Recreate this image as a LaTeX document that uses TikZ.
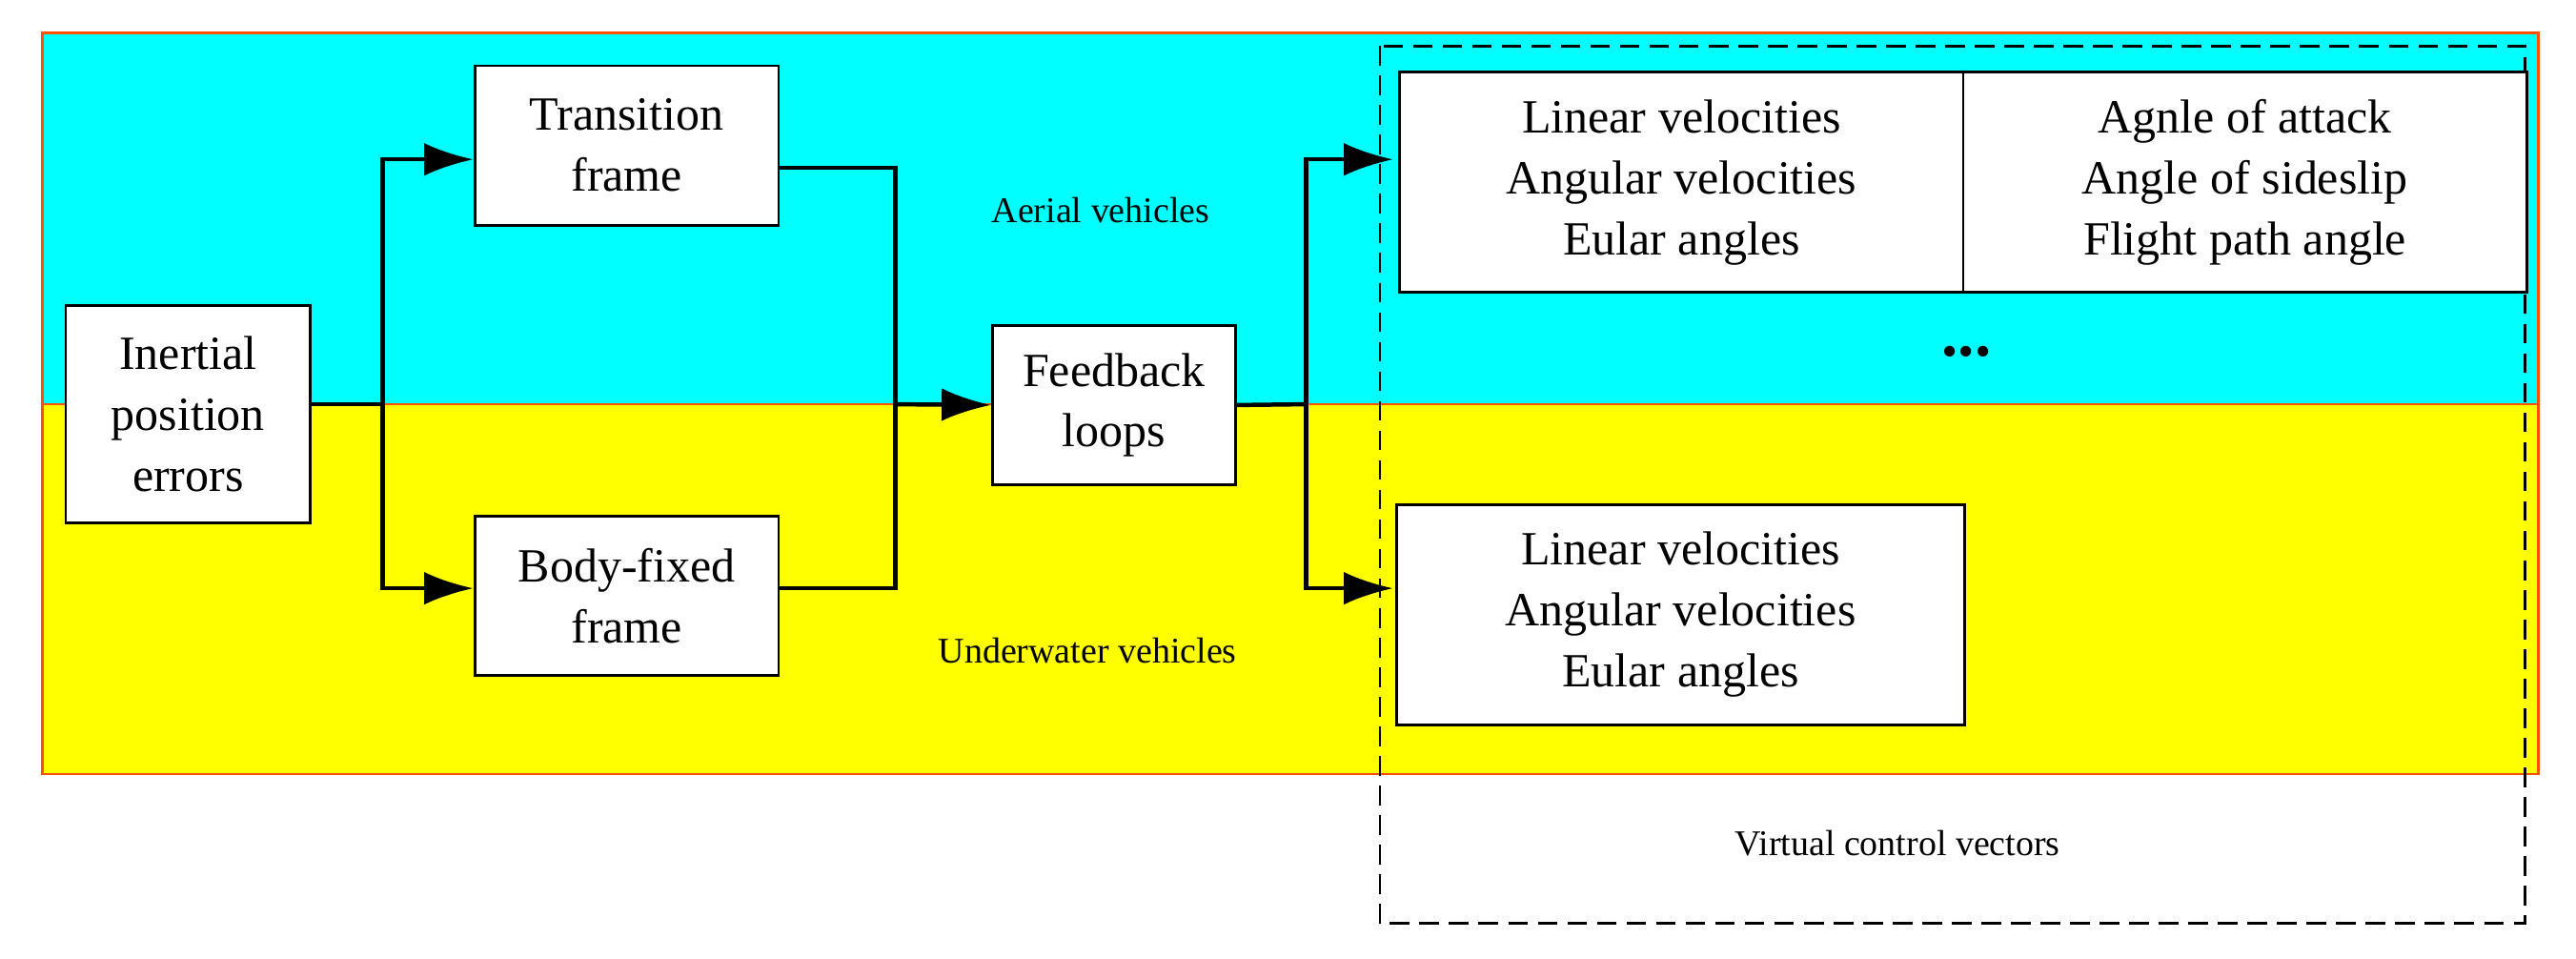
\documentclass[tikz,border=0pt]{standalone}
\usepackage{fontspec}
\setmainfont{Liberation Serif}
\usetikzlibrary{arrows.meta}
\definecolor{cy}{RGB}{0,255,255}
\definecolor{ye}{RGB}{255,255,0}
\definecolor{bd}{RGB}{255,80,0}
\begin{document}
\begin{tikzpicture}[x=0.5pt,y=-0.5pt,
  box/.style={draw,fill=white,line width=0.8pt,align=center,font=\fontsize{14.5}{18.5}\selectfont,inner sep=0pt},
  lab/.style={font=\fontsize{11}{13}\selectfont},
  ln/.style={line width=1.3pt},
  arr/.style={ln,-{Latex[length=15pt,width=10pt]}}]
\useasboundingbox (0,0) rectangle (1568,583);
\fill[cy] (26,20) rectangle (1545,246);
\fill[ye] (26,246) rectangle (1545,471);
\draw[bd,line width=0.8pt] (26,20) rectangle (1545,471);
\draw[bd,line width=0.8pt] (26,246) -- (1545,246);
\draw[dashed,line width=0.8pt,dash pattern=on 6pt off 3pt] (840,28) rectangle (1537,562);
\node[box,minimum width=74.5pt,minimum height=66pt] (ine) at (114.5,252) {Inertial\\position\\errors};
\node[box,minimum width=92.5pt,minimum height=48.5pt] (tra) at (381.5,88.5) {Transition\\frame};
\node[box,minimum width=92.5pt,minimum height=48.5pt] (bod) at (381.5,362.5) {Body-fixed\\frame};
\node[box,minimum width=74pt,minimum height=48.5pt] (fee) at (678,246.5) {Feedback\\loops};
\node[box,minimum width=171.5pt,minimum height=67pt] (v1) at (1023.5,111) {Linear velocities\\Angular velocities\\Eular angles};
\node[box,minimum width=171.5pt,minimum height=67pt] (v2) at (1366.5,111) {Agnle of attack\\Angle of sideslip\\Flight path angle};
\node[box,minimum width=173pt,minimum height=67pt] (v3) at (1023,374) {Linear velocities\\Angular velocities\\Eular angles};
\node[font=\fontsize{20}{22}\selectfont\bfseries] (dots) at (1197,214) {...};
\node[lab] (aer) at (670,128) {Aerial vehicles};
\node[lab] (und) at (662,396) {Underwater vehicles};
\node[lab] (vir) at (1155,513) {Virtual control vectors};
\coordinate (j1) at (233,246);
\coordinate (j2) at (545,246);
\coordinate (j3) at (795,246);
\draw[ln] (ine.east |- j1) -- (j1);
\draw[arr] (j1) |- (tra.west |- 0,97);
\draw[arr] (j1) |- (bod.west |- 0,358);
\draw[ln] (474,102) -| (j2) |- (bod.east |- 0,358);
\draw[arr] (j2) -- (fee.west);
\draw[ln] (fee.east) -- (j3);
\draw[arr] (j3) |- (848,97);
\draw[arr] (j3) |- (848,358);
\end{tikzpicture}
\end{document}
